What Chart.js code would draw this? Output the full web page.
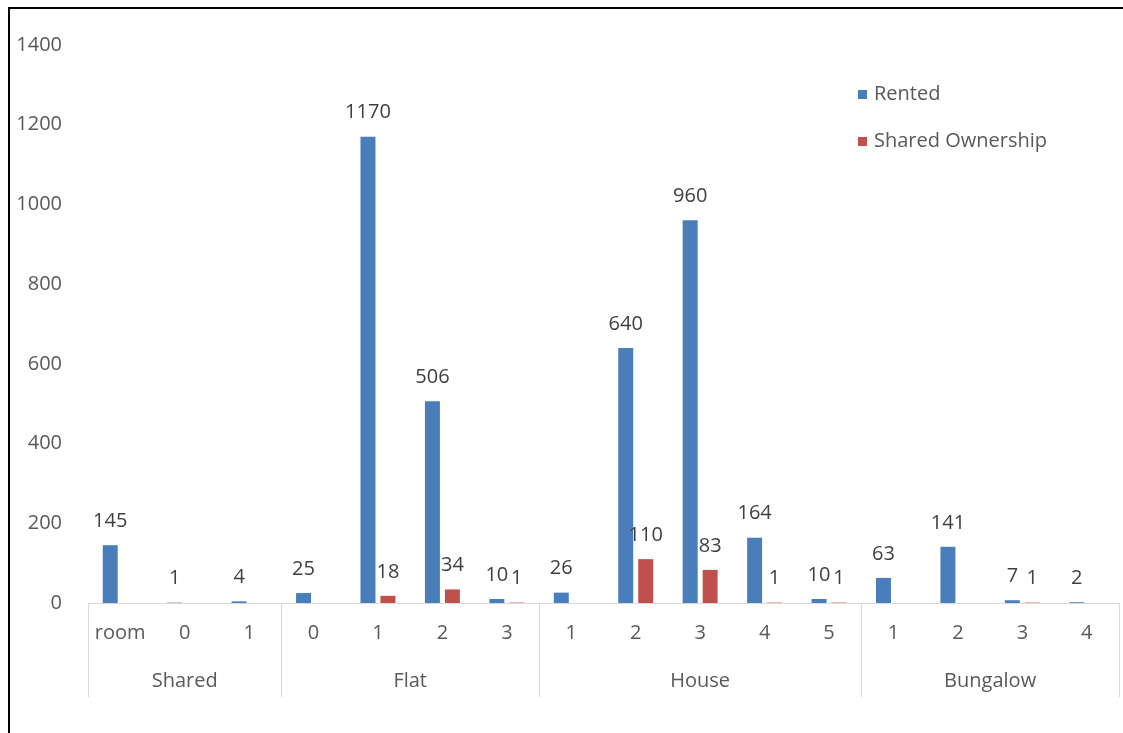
<!DOCTYPE html>
<html>
<head>
<meta charset="utf-8">
<title>Rented and Shared Ownership by property type and bedrooms</title>
<script src="https://cdn.jsdelivr.net/npm/chart.js@4.4.1/dist/chart.umd.min.js"></script>
<style>
  html, body { margin: 0; padding: 0; background: #ffffff; overflow: hidden; }
  #wrap { width: 1123px; height: 733px; position: relative; }
  #chart { display: block; }
</style>
</head>
<body>
<div id="wrap"><canvas id="chart" width="1123" height="733"></canvas></div>
<script>
// Property groups and the bedroom sub-categories inside each group
const groupNames = ['Shared', 'Flat', 'House', 'Bungalow'];
const groupSizes = [3, 4, 5, 4];
const bedroomLabels = ['room', '0', '1', '0', '1', '2', '3', '1', '2', '3', '4', '5', '1', '2', '3', '4'];

// Counts per sub-category
const rented = [145, 1, 4, 25, 1170, 506, 10, 26, 640, 960, 164, 10, 63, 141, 7, 2];
const sharedOwnership = [null, null, null, null, 18, 34, 1, null, 110, 83, 1, 1, null, null, 1, null];

// Value axis
const yMax = 1400;
const yStep = 200;

const FONT = '"Open Sans", "Noto Sans", sans-serif';
const FONT_SIZE = 20;
const TEXT = '#595959';
const LABEL = '#404040';
const LINE = '#d9d9d9';
const BLUE = '#4a7ebb';
const RED = '#c0504d';

// White background and the black frame on the left and top edges
const framePlugin = {
  id: 'frame',
  beforeDraw(chart) {
    const ctx = chart.ctx;
    ctx.save();
    ctx.fillStyle = '#ffffff';
    ctx.fillRect(0, 0, chart.width, chart.height);
    ctx.strokeStyle = '#000000';
    ctx.lineWidth = 2;
    ctx.beginPath();
    ctx.moveTo(9, chart.height);
    ctx.lineTo(9, 8);
    ctx.lineTo(chart.width, 8);
    ctx.stroke();
    ctx.restore();
  }
};

// Second level of the category axis: group separators and group names
const groupAxisPlugin = {
  id: 'groupAxis',
  afterDraw(chart) {
    const x = chart.scales.x;
    const ctx = chart.ctx;
    const top = chart.chartArea.bottom;
    const bottom = top + 94;
    const edges = [x.left];
    let idx = 0;
    groupSizes.forEach(n => {
      idx += n;
      if (idx >= bedroomLabels.length) {
        edges.push(x.right);
      } else {
        edges.push((x.getPixelForValue(idx - 1) + x.getPixelForValue(idx)) / 2);
      }
    });
    ctx.save();
    ctx.strokeStyle = LINE;
    ctx.lineWidth = 1;
    edges.forEach(px => {
      const p = Math.round(px) + 0.5;
      ctx.beginPath();
      ctx.moveTo(p, top);
      ctx.lineTo(p, bottom);
      ctx.stroke();
    });
    ctx.fillStyle = TEXT;
    ctx.font = FONT_SIZE + 'px ' + FONT;
    ctx.textAlign = 'center';
    ctx.textBaseline = 'middle';
    groupNames.forEach((name, i) => {
      ctx.fillText(name, (edges[i] + edges[i + 1]) / 2, top + 78);
    });
    ctx.restore();
  }
};

// Value labels above each bar
const valueLabelPlugin = {
  id: 'valueLabels',
  afterDatasetsDraw(chart) {
    const ctx = chart.ctx;
    ctx.save();
    ctx.fillStyle = LABEL;
    ctx.font = FONT_SIZE + 'px ' + FONT;
    ctx.textAlign = 'center';
    ctx.textBaseline = 'middle';
    chart.data.datasets.forEach((ds, di) => {
      const meta = chart.getDatasetMeta(di);
      meta.data.forEach((bar, i) => {
        const v = ds.data[i];
        if (v === null || v === undefined) return;
        ctx.fillText(String(v), bar.x, bar.y - 24);
      });
    });
    ctx.restore();
  }
};

// Legend inside the plot, stacked vertically at the upper right
const legendPlugin = {
  id: 'cornerLegend',
  afterDraw(chart) {
    const ctx = chart.ctx;
    ctx.save();
    ctx.font = FONT_SIZE + 'px ' + FONT;
    ctx.textAlign = 'left';
    ctx.textBaseline = 'middle';
    chart.data.datasets.forEach((ds, i) => {
      const cy = 94 + i * 47;
      ctx.fillStyle = ds.backgroundColor;
      ctx.fillRect(858, cy - 4, 9, 9);
      ctx.fillStyle = TEXT;
      ctx.fillText(ds.label, 874, cy);
    });
    ctx.restore();
  }
};

new Chart(document.getElementById('chart'), {
  type: 'bar',
  data: {
    labels: bedroomLabels,
    datasets: [
      { label: 'Rented', data: rented, backgroundColor: BLUE,
        categoryPercentage: 0.62, barPercentage: 0.75 },
      { label: 'Shared Ownership', data: sharedOwnership, backgroundColor: RED,
        categoryPercentage: 0.62, barPercentage: 0.75 }
    ]
  },
  options: {
    responsive: false,
    animation: false,
    layout: { padding: { left: 0, right: 4, top: 45, bottom: 0 } },
    plugins: {
      legend: { display: false },
      tooltip: { enabled: false }
    },
    scales: {
      x: {
        grid: { display: false, drawTicks: false },
        border: { display: true, color: LINE, width: 1 },
        ticks: { color: TEXT, font: { family: FONT, size: FONT_SIZE }, padding: 18, maxRotation: 0, autoSkip: false },
        afterFit(scale) { scale.height = 130; }
      },
      y: {
        min: 0,
        max: yMax,
        grid: { display: false, drawTicks: false },
        border: { display: false },
        ticks: {
          stepSize: yStep,
          color: TEXT,
          font: { family: FONT, size: FONT_SIZE },
          padding: 26,
          callback: v => String(v)
        },
        afterFit(scale) { scale.width = 88; }
      }
    }
  },
  plugins: [framePlugin, groupAxisPlugin, valueLabelPlugin, legendPlugin]
});
</script>
</body>
</html>
